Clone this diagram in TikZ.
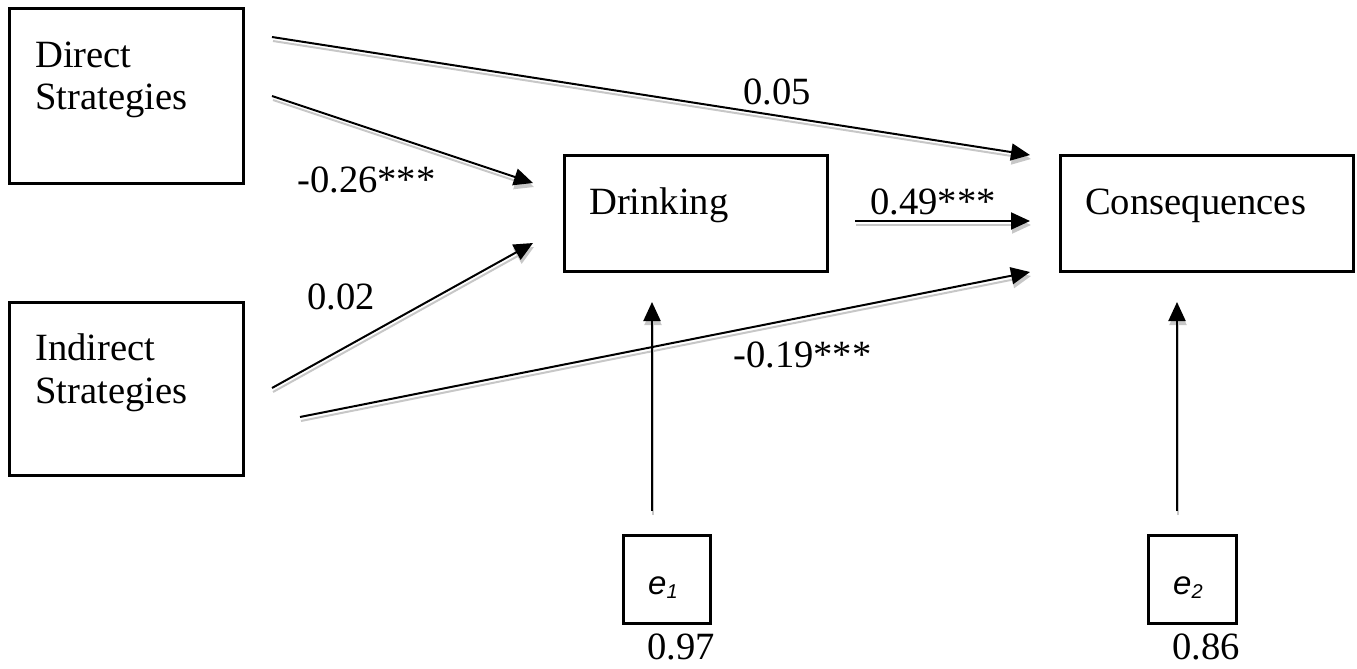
\documentclass[tikz,border=0pt]{standalone}
\usepackage{fontspec}
\setmainfont{Liberation Serif}
\newfontfamily\esans{Liberation Sans}
\usetikzlibrary{arrows.meta}
\begin{document}
\begin{tikzpicture}[x=1pt,y=-1pt,
  box/.style={draw, line width=2.6pt, anchor=north west, inner sep=0pt},
  txt/.style={anchor=base west, inner sep=0pt, font=\fontsize{38.6}{44}\selectfont, align=left},
  etxt/.style={anchor=base west, inner sep=0pt, font=\esans\itshape\fontsize{33}{33}\selectfont},
  tipstyle/.style={-{Triangle[length=19pt,width=17pt]}},
  pathln/.style={draw=black, line width=2pt, tipstyle},
  shadowln/.style={draw=black!22, fill=black!22, line width=2pt, tipstyle, transform canvas={shift={(1pt,-4pt)}}}
]
\useasboundingbox (0,0) rectangle (1357,669);

% boxes
\node[box, minimum width=234pt, minimum height=175pt] (ds) at (8,7) {};
\node[box, minimum width=234pt, minimum height=173pt] (is) at (8,301) {};
\node[box, minimum width=263pt, minimum height=116pt] (dr) at (563,154) {};
\node[box, minimum width=293pt, minimum height=116pt] (co) at (1059,154) {};
\node[box, minimum width=87pt, minimum height=88pt] (e1) at (622,534) {};
\node[box, minimum width=88pt, minimum height=88pt] (e2) at (1147,534) {};

% box texts
\node[txt] (dst1) at (35,67) {Direct};
\node[txt] (dst2) at (35,110) {Strategies};
\node[txt] (ist1) at (35,360) {Indirect};
\node[txt] (ist2) at (35,403) {Strategies};
\node[txt] (drt) at (589,214) {Drinking};
\node[txt] (cot) at (1085,214) {Consequences};
\node[etxt] (e1t) at (648,594) {e\raisebox{-4pt}{\fontsize{20}{20}\selectfont 1}};
\node[etxt] (e2t) at (1173,594) {e\raisebox{-4pt}{\fontsize{20}{20}\selectfont 2}};

% arrow end points
\coordinate (a1s) at (272,37);  \coordinate (a1e) at (1030,155);
\coordinate (a2s) at (272,96);  \coordinate (a2e) at (533,183);
\coordinate (a3s) at (272,388); \coordinate (a3e) at (533,243);
\coordinate (a4s) at (300,417); \coordinate (a4e) at (1030,272);
\coordinate (a5s) at (855,221); \coordinate (a5e) at (1030,221);
\coordinate (a6s) at (652,511); \coordinate (a6e) at (652,302);
\coordinate (a7s) at (1177,511); \coordinate (a7e) at (1177,302);

% shadows
\foreach \i in {1,...,7} {
  \draw[shadowln] (a\i s) -- (a\i e);
}
% arrows
\foreach \i in {1,...,7} {
  \draw[pathln] (a\i s) -- (a\i e);
}

% coefficient labels
\node[txt] (l05) at (743,104) {0.05};
\node[txt] (l26) at (297,192) {-0.26***};
\node[txt] (l02) at (307,309) {0.02};
\node[txt] (l19) at (733,367) {-0.19***};
\node[txt] (l49) at (870,214) {0.49***};
\node[txt] (l97) at (647,659) {0.97};
\node[txt] (l86) at (1172,659) {0.86};
\end{tikzpicture}
\end{document}
